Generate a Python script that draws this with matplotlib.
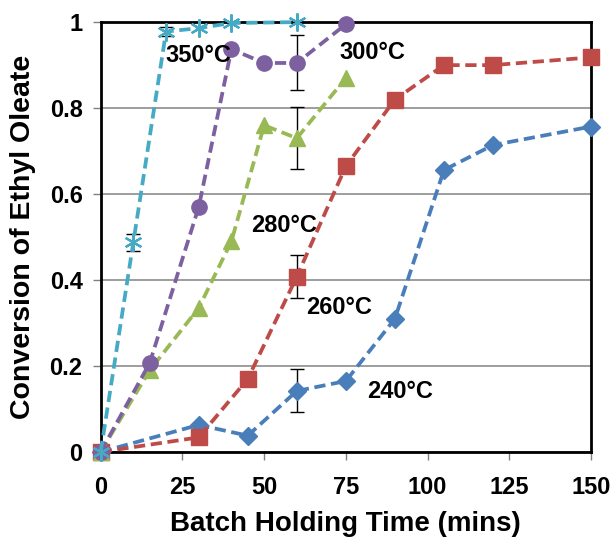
import numpy as np
import matplotlib
matplotlib.use('Agg')
import matplotlib.pyplot as plt
from matplotlib.ticker import FixedLocator, FuncFormatter

plt.rcParams['font.family'] = ['Liberation Sans', 'DejaVu Sans']
plt.rcParams['font.weight'] = 'bold'

# data
t_240 = [0, 30, 45, 60, 75, 90, 105, 120, 150]
c_240 = [0, 0.063, 0.038, 0.142, 0.165, 0.31, 0.656, 0.714, 0.757]

t_260 = [0, 30, 45, 60, 75, 90, 105, 120, 150]
c_260 = [0, 0.034, 0.17, 0.408, 0.665, 0.82, 0.90, 0.90, 0.918]

t_280 = [0, 15, 30, 40, 50, 60, 75]
c_280 = [0, 0.19, 0.335, 0.49, 0.76, 0.73, 0.87]

t_300 = [0, 15, 30, 40, 50, 60, 75]
c_300 = [0, 0.207, 0.57, 0.937, 0.905, 0.905, 0.995]

t_350 = [0, 10, 20, 30, 40, 60]
c_350 = [0, 0.488, 0.978, 0.986, 0.998, 1.0]

# error bars (only some points have them)
err_240 = [0, 0, 0, 0.05, 0, 0, 0, 0, 0]
err_260 = [0, 0, 0, 0.05, 0, 0, 0, 0, 0]
err_280 = [0, 0, 0, 0, 0, 0.072, 0]
err_300 = [0, 0, 0, 0, 0, 0.064, 0]
err_350 = [0, 0.02, 0.01, 0, 0, 0]

series = [
    (t_240, c_240, err_240, '#4A7EBB', 'D', 9),
    (t_260, c_260, err_260, '#BE4B48', 's', 11),
    (t_280, c_280, err_280, '#98B954', '^', 11),
    (t_300, c_300, err_300, '#7D60A0', 'o', 11),
    (t_350, c_350, err_350, '#46AAC5', (6, 2, 0), 13),
]

labels = ['240°C', '260°C', '280°C', '300°C', '350°C']
label_pos = [(91.5, 0.14), (73, 0.337), (56, 0.527), (83, 0.93), (30, 0.923)]

fig = plt.figure(figsize=(6.1, 5.4), dpi=100)
ax = fig.add_axes([0.165, 0.163, 0.804, 0.796])

for t, c, e, col, mk, ms in series:
    e = np.array(e)
    idx = e > 0
    ax.errorbar(np.array(t)[idx], np.array(c)[idx], yerr=e[idx], fmt='none',
                ecolor='black', elinewidth=1, capsize=5, capthick=1, zorder=2)
    ax.plot(t, c, color=col, linestyle=(0, (3, 1.5)), linewidth=2.7,
            marker=mk, markersize=ms, markeredgewidth=1.6 if mk == (6, 2, 0) else 1,
            markerfacecolor=col, markeredgecolor=col, zorder=3, clip_on=False)

for lab, (x, y) in zip(labels, label_pos):
    ax.text(x, y, lab, fontsize=17, fontweight='bold', ha='center', va='center', zorder=5)

ax.set_xlim(0, 150)
ax.set_ylim(0, 1)
ax.xaxis.set_major_locator(FixedLocator([0, 25, 50, 75, 100, 125, 150]))
ax.yaxis.set_major_locator(FixedLocator([0, 0.2, 0.4, 0.6, 0.8, 1.0]))
ax.yaxis.set_major_formatter(FuncFormatter(lambda v, p: '%g' % v))
ax.tick_params(axis='x', direction='out', length=6, width=1, color='#808080',
               labelsize=17, pad=11)
ax.tick_params(axis='y', direction='out', length=6, width=1, color='#808080',
               labelsize=17, pad=7)
ax.grid(axis='y', color='#8c8c8c', linewidth=1.2)
ax.set_axisbelow(True)
for s in ax.spines.values():
    s.set_linewidth(2)
    s.set_color('black')

ax.set_xlabel('Batch Holding Time (mins)', fontsize=20, fontweight='bold', labelpad=9)
ax.set_ylabel('Conversion of Ethyl Oleate', fontsize=20.5, fontweight='bold', labelpad=10)

plt.savefig('out.png', dpi=100)
plt.close()
